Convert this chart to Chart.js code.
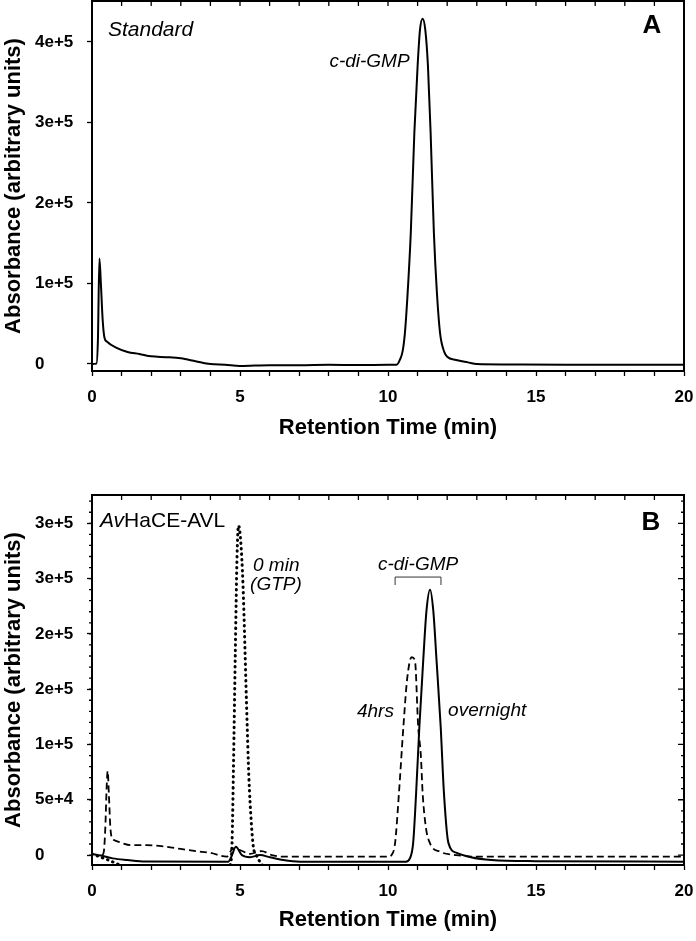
<!DOCTYPE html>
<html>
<head>
<meta charset="utf-8">
<script src="https://cdn.jsdelivr.net/npm/chart.js@4.4.1/dist/chart.umd.min.js"></script>
<style>
html,body{margin:0;padding:0;background:#fff;}
.panel{position:absolute;left:0;width:696px;}
#pa{top:0;height:440px;}
#pb{top:470px;height:470px;}
</style>
</head>
<body>
<div class="panel" id="pa"><canvas id="chartA"></canvas></div>
<div class="panel" id="pb"><canvas id="chartB"></canvas></div>
<script>
// ----- data -----
const yTicksA  = [0, 1e5, 2e5, 3e5, 4e5];
const yLabelsA = ["0","1e+5","2e+5","3e+5","4e+5"];
const yTicksB  = [0, 5e4, 1e5, 1.5e5, 2e5, 2.5e5, 3e5];
const yLabelsB = ["0","5e+4","1e+5","2e+5","2e+5","3e+5","3e+5"];

// panel A: standard
const timeStd = [0,0.15,0.2,0.25,0.3,0.36,0.42,0.5,0.83,1.2,1.6,2.0,2.5,3.0,3.5,4.0,4.5,5.0,6.0,7.0,8.0,9.0,10.0,10.29,10.4,10.5,10.57,10.65,10.77,10.89,11.0,11.08,11.17,11.26,11.35,11.44,11.55,11.65,11.76,11.9,12.0,12.3,12.7,13.0,14.0,16.0,18.0,20.0];
const absStd  = [0,500,30000,131000,100000,55000,33000,28000,20000,15000,12500,9500,8500,7000,3500,0,-1000,-2500,-1500,-1500,-1000,-1200,-1000,-1000,5000,17000,38000,80000,163000,287000,370000,415000,429000,415000,370000,287000,163000,90000,38000,15000,9000,5000,2000,0,-500,-800,-1000,-1000];

// panel B: 0 min (GTP)
const time0 = [0,0.3,0.6,0.9,1.2,1.5,4.6,4.7,4.74,4.78,4.84,4.9,4.95,5.02,5.1,5.22,5.3,5.38,5.45,5.55,5.7,5.9,20];
const abs0  = [1000,-2000,-5000,-8500,-11000,-12000,-12000,-5000,20000,80000,180000,270000,298000,285000,245000,137000,70000,30000,7500,0,-7000,-12000,-12000];

// panel B: 4hrs
const time4h = [0.35,0.4,0.45,0.5,0.53,0.57,0.62,0.68,0.75,1.0,1.3,1.85,2.5,3.0,3.5,4.0,4.55,4.77,5.0,5.34,5.73,6.07,6.5,8.0,10.0,10.12,10.24,10.37,10.52,10.65,10.8,10.91,11.02,11.11,11.17,11.28,11.42,11.76,12.3,13.0,16.0,20.0];
const abs4h  = [0,3000,25000,65000,76000,55000,25000,15000,13500,11000,9000,9000,7500,5500,3500,2000,-1500,6000,4500,1000,3600,0,-1500,-1500,-1500,0,11000,56000,116000,160000,179000,176000,116000,90000,56000,25000,10500,3000,0,-1500,-1500,-1500];

// panel B: overnight
const timeON = [0,0.3,0.7,1.2,1.8,4.6,4.7,4.86,5.06,5.34,5.68,6.01,6.46,7.03,10.6,10.74,10.85,10.95,11.06,11.19,11.30,11.42,11.53,11.64,11.78,11.89,12.04,12.32,12.8,13.5,15,20];
const absON  = [1000,-500,-3000,-4500,-5800,-6000,-2000,7500,0,-2000,0,-2000,-4500,-6000,-6000,-3000,11000,56000,116000,176000,221000,240000,221000,176000,116000,56000,11000,2000,-2000,-4500,-5500,-6000];

// ----- helpers -----
const pts = (xs, ys)=> xs.map((x,i)=>({x, y: ys[i]}));
const FONT = "'Liberation Sans', Arial, sans-serif";

function drawTicks(chart, o){
  const {ctx, chartArea:a, scales:{x,y}} = chart;
  ctx.save();
  ctx.strokeStyle = "#000";
  ctx.lineWidth = 2;
  ctx.strokeRect(a.left, a.top, a.right-a.left, a.bottom-a.top);
  ctx.lineWidth = 1.3;
  ctx.beginPath();
  // top edge, inward
  x.ticks.forEach(t=>{ const px = x.getPixelForValue(t.value); ctx.moveTo(px, a.top); ctx.lineTo(px, a.top+5); });
  if(o.minorStep){
    for(let v=0; v<=y.max; v+=o.minorStep){
      const py = y.getPixelForValue(v);
      const major = yTicksB.includes(v);
      ctx.moveTo(a.left-3, py); ctx.lineTo(a.left, py);
      ctx.moveTo(a.right, py); ctx.lineTo(a.right-(major?6:3), py);
    }
  }
  ctx.stroke();
  ctx.restore();
}

function text(ctx, s, px, py, size, style){
  ctx.font = `${style} ${size}px ${FONT}`;
  ctx.fillText(s, px, py);
  return ctx.measureText(s).width;
}

const annotA = {
  id: "annotA",
  afterDatasetsDraw(chart){
    drawTicks(chart, {});
    const {ctx, scales:{x,y}} = chart;
    ctx.save();
    ctx.fillStyle = "#000"; ctx.textBaseline = "alphabetic"; ctx.textAlign = "left";
    text(ctx, "Standard", x.getPixelForValue(0.54), y.getPixelForValue(408000), 21, "italic");
    text(ctx, "c-di-GMP", x.getPixelForValue(8.02), y.getPixelForValue(369000), 19, "italic");
    text(ctx, "A", x.getPixelForValue(18.6), y.getPixelForValue(411000), 26, "bold");
    ctx.restore();
  }
};

const annotB = {
  id: "annotB",
  afterDatasetsDraw(chart){
    drawTicks(chart, {minorStep: 1e4});
    const {ctx, scales:{x,y}} = chart;
    ctx.save();
    ctx.fillStyle = "#000"; ctx.textBaseline = "alphabetic"; ctx.textAlign = "left";
    const ax = x.getPixelForValue(0.27), ay = y.getPixelForValue(296600);
    const w = text(ctx, "Av", ax, ay, 21, "italic");
    text(ctx, "HaCE-AVL", ax+w, ay, 21, "normal");
    text(ctx, "0 min", x.getPixelForValue(5.44), y.getPixelForValue(257000), 19, "italic");
    text(ctx, "(GTP)", x.getPixelForValue(5.34), y.getPixelForValue(239700), 19, "italic");
    text(ctx, "c-di-GMP", x.getPixelForValue(9.66), y.getPixelForValue(257800), 19, "italic");
    text(ctx, "4hrs", x.getPixelForValue(8.95), y.getPixelForValue(124800), 19, "italic");
    text(ctx, "overnight", x.getPixelForValue(12.03), y.getPixelForValue(126000), 19, "italic");
    text(ctx, "B", x.getPixelForValue(18.56), y.getPixelForValue(293900), 26, "bold");
    // bracket over the two c-di-GMP peaks
    const l = x.getPixelForValue(10.24), r = x.getPixelForValue(11.79);
    const t = y.getPixelForValue(251400), b = y.getPixelForValue(244200);
    ctx.strokeStyle = "#333"; ctx.lineWidth = 1;
    ctx.beginPath();
    ctx.moveTo(l, b); ctx.lineTo(l, t); ctx.lineTo(r, t); ctx.lineTo(r, b);
    ctx.stroke();
    ctx.restore();
  }
};

function xAxis(h, titlePad){
  return {
    type: "linear", min: 0, max: 20,
    afterBuildTicks: s=>{ s.ticks = Array.from({length:21}, (_,i)=>({value:i})); },
    afterFit: s=>{ s.height = h; s.paddingLeft = 0; s.paddingRight = 0; },
    ticks: { autoSkip:false, maxRotation:0, color:"#000", padding:11,
             font:{family:FONT, size:17, weight:"bold"},
             callback: v=> v%5===0 ? String(v) : "" },
    grid: { drawOnChartArea:false, drawTicks:true, tickLength:5, tickColor:"#000", tickWidth:1.3 },
    border: { color:"#000", width:2 },
    title: { display:true, text:"Retention Time (min)", color:"#000",
             font:{family:FONT, size:22, weight:"bold"}, padding:{top:0, bottom:titlePad} }
  };
}

function yAxis(min, max, vals, labels){
  return {
    type: "linear", min, max,
    afterBuildTicks: s=>{ s.ticks = vals.map(v=>({value:v})); },
    afterFit: s=>{ s.width = 57; s.paddingTop = 0; s.paddingBottom = 0; },
    ticks: { color:"#000", crossAlign:"far", padding:12,
             font:{family:FONT, size:17, weight:"bold"},
             callback: (v,i)=> labels[i] },
    grid: { drawOnChartArea:false, drawTicks:true, tickLength:5, tickColor:"#000", tickWidth:1.3 },
    border: { color:"#000", width:2 },
    title: { display:true, text:"Absorbance (arbitrary units)", color:"#000",
             font:{family:FONT, size:22, weight:"bold"}, padding:{top:-34, bottom:0} }
  };
}

const common = {
  responsive:true, maintainAspectRatio:false, animation:false,
  plugins:{ legend:{display:false}, tooltip:{enabled:false} },
  elements:{ point:{radius:0}, line:{cubicInterpolationMode:"monotone", borderColor:"#000"} }
};

new Chart(document.getElementById("chartA"), {
  type: "line",
  data: { datasets: [
    { label:"Standard", data: pts(timeStd, absStd), borderWidth:2, borderColor:"#000" }
  ]},
  options: { ...common,
    layout:{ padding:{left:35, right:12, top:1, bottom:0} },
    scales:{ x: xAxis(69, -1), y: yAxis(-8700, 450900, yTicksA, yLabelsA) }
  },
  plugins:[annotA]
});

new Chart(document.getElementById("chartB"), {
  type: "line",
  data: { datasets: [
    { label:"0 min (GTP)", data: pts(time0, abs0), borderWidth:3, borderColor:"#000", borderDash:[0.5,5], borderCapStyle:"round" },
    { label:"4hrs", data: pts(time4h, abs4h), borderWidth:1.8, borderColor:"#000", borderDash:[7,4] },
    { label:"overnight", data: pts(timeON, absON), borderWidth:2, borderColor:"#000" }
  ]},
  options: { ...common,
    layout:{ padding:{left:35, right:12, top:25, bottom:0} },
    scales:{ x: xAxis(75, 7), y: yAxis(-9000, 325600, yTicksB, yLabelsB) }
  },
  plugins:[annotB]
});
</script>
</body>
</html>
